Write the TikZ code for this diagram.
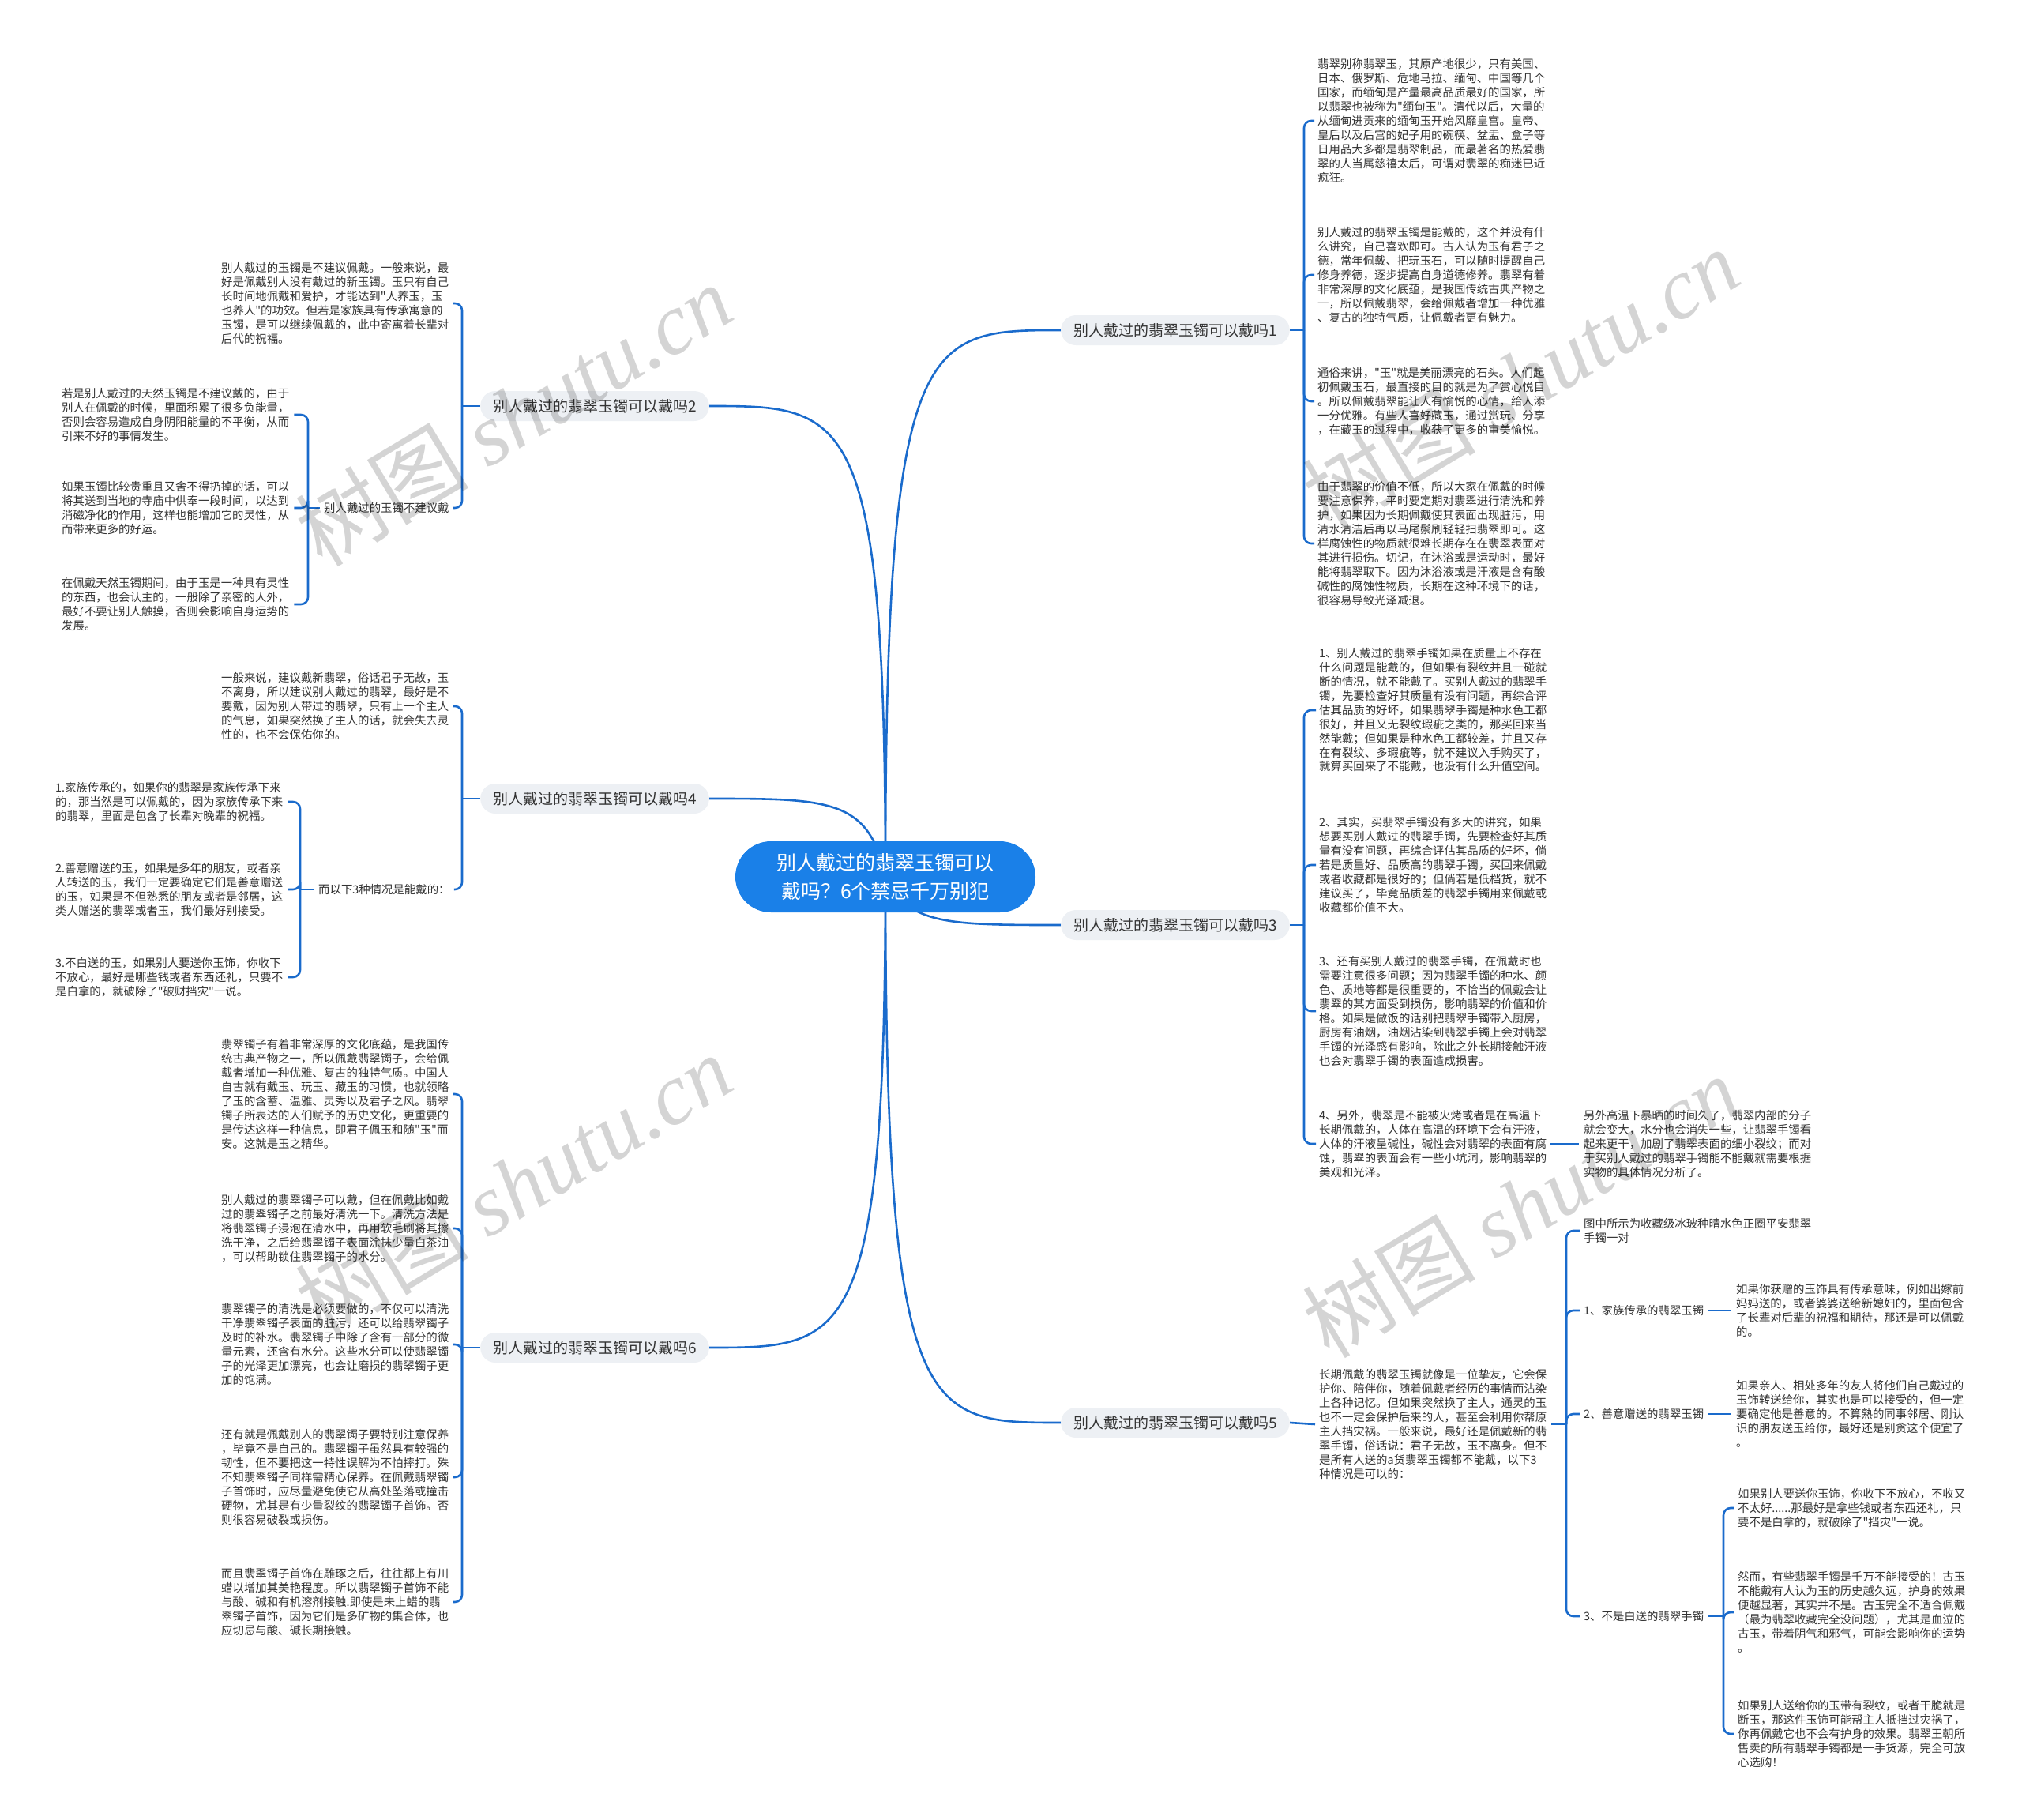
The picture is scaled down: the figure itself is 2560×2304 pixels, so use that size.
\documentclass[tikz,border=0pt]{standalone}
\usepackage{fontspec}
\setmainfont{Noto Sans CJK SC}
\newfontfamily\cjk{Noto Sans CJK SC}
\newfontfamily\wmlatin{Liberation Serif}
\usetikzlibrary{backgrounds}
\definecolor{lineblue}{HTML}{1A6BCC}
\definecolor{rootblue}{HTML}{1A80E8}
\definecolor{branchgray}{HTML}{EDF0F4}
\definecolor{txtgray}{HTML}{333333}
\tikzset{
  txt/.style={align=left, inner sep=0pt, anchor=west, text=txtgray, font=\cjk\fontsize{14.4}{17.9}\selectfont},
  mmbranch/.style={fill=branchgray, rounded corners=19pt, inner xsep=16pt, inner ysep=0pt, minimum height=38pt, text=txtgray, font=\cjk\fontsize{19}{22}\selectfont},
  mmroot/.style={fill=rootblue, text=white, rounded corners=45pt, minimum width=380pt, minimum height=90pt, align=center, font=\cjk\fontsize{25}{36}\selectfont},
  conn/.style={draw=lineblue, line width=2.6pt},
  brk/.style={conn, rounded corners=9pt},
  wmark/.style={rotate=31, text=black, opacity=0.17, font=\cjk\fontsize{110}{110}\selectfont},
}
\begin{document}
\begin{tikzpicture}[x=1pt,y=-1pt]
\useasboundingbox (0,0) rectangle (2560,2304);

% root and branches
\node[mmroot] (root) at (1121,1110) {别人戴过的翡翠玉镯可以\\戴吗？6个禁忌千万别犯};
\node[mmbranch] (b1) at (1488,418) {别人戴过的翡翠玉镯可以戴吗1};
\node[mmbranch] (b3) at (1488,1171) {别人戴过的翡翠玉镯可以戴吗3};
\node[mmbranch] (b5) at (1488,1801) {别人戴过的翡翠玉镯可以戴吗5};
\node[mmbranch] (b2) at (753,514) {别人戴过的翡翠玉镯可以戴吗2};
\node[mmbranch] (b4) at (753,1011) {别人戴过的翡翠玉镯可以戴吗4};
\node[mmbranch] (b6) at (753,1706) {别人戴过的翡翠玉镯可以戴吗6};

% branch 1 children
\node[txt] (r1a) at (1668,153) {翡翠别称翡翠玉，其原产地很少，只有美国、\\日本、俄罗斯、危地马拉、缅甸、中国等几个\\国家，而缅甸是产量最高品质最好的国家，所\\以翡翠也被称为"缅甸玉"。清代以后，大量的\\从缅甸进贡来的缅甸玉开始风靡皇宫。皇帝、\\皇后以及后宫的妃子用的碗筷、盆盂、盒子等\\日用品大多都是翡翠制品，而最著名的热爱翡\\翠的人当属慈禧太后，可谓对翡翠的痴迷已近\\疯狂。};
\node[txt] (r1b) at (1668,348) {别人戴过的翡翠玉镯是能戴的，这个并没有什\\么讲究，自己喜欢即可。古人认为玉有君子之\\德，常年佩戴、把玩玉石，可以随时提醒自己\\修身养德，逐步提高自身道德修养。翡翠有着\\非常深厚的文化底蕴，是我国传统古典产物之\\一，所以佩戴翡翠，会给佩戴者增加一种优雅\\、复古的独特气质，让佩戴者更有魅力。};
\node[txt] (r1c) at (1668,508) {通俗来讲，"玉"就是美丽漂亮的石头。人们起\\初佩戴玉石，最直接的目的就是为了赏心悦目\\。所以佩戴翡翠能让人有愉悦的心情，给人添\\一分优雅。有些人喜好藏玉，通过赏玩、分享\\，在藏玉的过程中，收获了更多的审美愉悦。};
\node[txt] (r1d) at (1668,688) {由于翡翠的价值不低，所以大家在佩戴的时候\\要注意保养，平时要定期对翡翠进行清洗和养\\护，如果因为长期佩戴使其表面出现脏污，用\\清水清洁后再以马尾鬃刷轻轻扫翡翠即可。这\\样腐蚀性的物质就很难长期存在在翡翠表面对\\其进行损伤。切记，在沐浴或是运动时，最好\\能将翡翠取下。因为沐浴液或是汗液是含有酸\\碱性的腐蚀性物质，长期在这种环境下的话，\\很容易导致光泽减退。};

% branch 3 children
\node[txt] (r3a) at (1670,899) {1、别人戴过的翡翠手镯如果在质量上不存在\\什么问题是能戴的，但如果有裂纹并且一碰就\\断的情况，就不能戴了。买别人戴过的翡翠手\\镯，先要检查好其质量有没有问题，再综合评\\估其品质的好坏，如果翡翠手镯是种水色工都\\很好，并且又无裂纹瑕疵之类的，那买回来当\\然能戴；但如果是种水色工都较差，并且又存\\在有裂纹、多瑕疵等，就不建议入手购买了，\\就算买回来了不能戴，也没有什么升值空间。};
\node[txt] (r3b) at (1670,1095) {2、其实，买翡翠手镯没有多大的讲究，如果\\想要买别人戴过的翡翠手镯，先要检查好其质\\量有没有问题，再综合评估其品质的好坏，倘\\若是质量好、品质高的翡翠手镯，买回来佩戴\\或者收藏都是很好的；但倘若是低档货，就不\\建议买了，毕竟品质差的翡翠手镯用来佩戴或\\收藏都价值不大。};
\node[txt] (r3c) at (1670,1280) {3、还有买别人戴过的翡翠手镯，在佩戴时也\\需要注意很多问题；因为翡翠手镯的种水、颜\\色、质地等都是很重要的，不恰当的佩戴会让\\翡翠的某方面受到损伤，影响翡翠的价值和价\\格。如果是做饭的话别把翡翠手镯带入厨房，\\厨房有油烟，油烟沾染到翡翠手镯上会对翡翠\\手镯的光泽感有影响，除此之外长期接触汗液\\也会对翡翠手镯的表面造成损害。};
\node[txt] (r3d) at (1670,1448) {4、另外，翡翠是不能被火烤或者是在高温下\\长期佩戴的，人体在高温的环境下会有汗液，\\人体的汗液呈碱性，碱性会对翡翠的表面有腐\\蚀，翡翠的表面会有一些小坑洞，影响翡翠的\\美观和光泽。};
\node[txt] (r3e) at (2005,1448) {另外高温下暴晒的时间久了，翡翠内部的分子\\就会变大，水分也会消失一些，让翡翠手镯看\\起来更干，加剧了翡翠表面的细小裂纹；而对\\于买别人戴过的翡翠手镯能不能戴就需要根据\\实物的具体情况分析了。};

% branch 5 children
\node[txt] (r5) at (1670,1803) {长期佩戴的翡翠玉镯就像是一位挚友，它会保\\护你、陪伴你，随着佩戴者经历的事情而沾染\\上各种记忆。但如果突然换了主人，通灵的玉\\也不一定会保护后来的人，甚至会利用你帮原\\主人挡灾祸。一般来说，最好还是佩戴新的翡\\翠手镯，俗话说：君子无故，玉不离身。但不\\是所有人送的a货翡翠玉镯都不能戴，以下3\\种情况是可以的：};
\node[txt] (c1) at (2005,1558) {图中所示为收藏级冰玻种晴水色正圈平安翡翠\\手镯一对};
\node[txt] (c2) at (2005,1659) {1、家族传承的翡翠玉镯};
\node[txt] (c3) at (2005,1790) {2、善意赠送的翡翠玉镯};
\node[txt] (c4) at (2005,2046) {3、不是白送的翡翠手镯};
\node[txt] (c2x) at (2198,1659) {如果你获赠的玉饰具有传承意味，例如出嫁前\\妈妈送的，或者婆婆送给新媳妇的，里面包含\\了长辈对后辈的祝福和期待，那还是可以佩戴\\的。};
\node[txt] (c3x) at (2198,1790) {如果亲人、相处多年的友人将他们自己戴过的\\玉饰转送给你，其实也是可以接受的，但一定\\要确定他是善意的。不算熟的同事邻居、刚认\\识的朋友送玉给你，最好还是别贪这个便宜了\\。};
\node[txt] (d1) at (2200,1909) {如果别人要送你玉饰，你收下不放心，不收又\\不太好......那最好是拿些钱或者东西还礼，只\\要不是白拿的，就破除了"挡灾"一说。};
\node[txt] (d2) at (2200,2041) {然而，有些翡翠手镯是千万不能接受的！古玉\\不能戴有人认为玉的历史越久远，护身的效果\\便越显著，其实并不是。古玉完全不适合佩戴\\（最为翡翠收藏完全没问题），尤其是血泣的\\古玉，带着阴气和邪气，可能会影响你的运势\\。};
\node[txt] (d3) at (2200,2195) {如果别人送给你的玉带有裂纹，或者干脆就是\\断玉，那这件玉饰可能帮主人抵挡过灾祸了，\\你再佩戴它也不会有护身的效果。翡翠王朝所\\售卖的所有翡翠手镯都是一手货源，完全可放\\心选购！};

% branch 2 children
\node[txt] (l2a) at (280,384) {别人戴过的玉镯是不建议佩戴。一般来说，最\\好是佩戴别人没有戴过的新玉镯。玉只有自己\\长时间地佩戴和爱护，才能达到"人养玉，玉\\也养人"的功效。但若是家族具有传承寓意的\\玉镯，是可以继续佩戴的，此中寄寓着长辈对\\后代的祝福。};
\node[txt] (l2b) at (410,643) {别人戴过的玉镯不建议戴};
\node[txt] (l2b1) at (78,525) {若是别人戴过的天然玉镯是不建议戴的，由于\\别人在佩戴的时候，里面积累了很多负能量，\\否则会容易造成自身阴阳能量的不平衡，从而\\引来不好的事情发生。};
\node[txt] (l2b2) at (78,643) {如果玉镯比较贵重且又舍不得扔掉的话，可以\\将其送到当地的寺庙中供奉一段时间，以达到\\消磁净化的作用，这样也能增加它的灵性，从\\而带来更多的好运。};
\node[txt] (l2b3) at (78,765) {在佩戴天然玉镯期间，由于玉是一种具有灵性\\的东西，也会认主的，一般除了亲密的人外，\\最好不要让别人触摸，否则会影响自身运势的\\发展。};

% branch 4 children
\node[txt] (l4a) at (280,894) {一般来说，建议戴新翡翠，俗话君子无故，玉\\不离身，所以建议别人戴过的翡翠，最好是不\\要戴，因为别人带过的翡翠，只有上一个主人\\的气息，如果突然换了主人的话，就会失去灵\\性的，也不会保佑你的。};
\node[txt] (l4b) at (403,1126) {而以下3种情况是能戴的：};
\node[txt] (l4b1) at (70,1015) {1.家族传承的，如果你的翡翠是家族传承下来\\的，那当然是可以佩戴的，因为家族传承下来\\的翡翠，里面是包含了长辈对晚辈的祝福。};
\node[txt] (l4b2) at (70,1126) {2.善意赠送的玉，如果是多年的朋友，或者亲\\人转送的玉，我们一定要确定它们是善意赠送\\的玉，如果是不但熟悉的朋友或者是邻居，这\\类人赠送的翡翠或者玉，我们最好别接受。};
\node[txt] (l4b3) at (70,1237) {3.不白送的玉，如果别人要送你玉饰，你收下\\不放心，最好是哪些钱或者东西还礼，只要不\\是白拿的，就破除了"破财挡灾"一说。};

% branch 6 children
\node[txt] (l6a) at (280,1385) {翡翠镯子有着非常深厚的文化底蕴，是我国传\\统古典产物之一，所以佩戴翡翠镯子，会给佩\\戴者增加一种优雅、复古的独特气质。中国人\\自古就有戴玉、玩玉、藏玉的习惯，也就领略\\了玉的含蓄、温雅、灵秀以及君子之风。翡翠\\镯子所表达的人们赋予的历史文化，更重要的\\是传达这样一种信息，即君子佩玉和随"玉"而\\安。这就是玉之精华。};
\node[txt] (l6b) at (280,1555) {别人戴过的翡翠镯子可以戴，但在佩戴比如戴\\过的翡翠镯子之前最好清洗一下。清洗方法是\\将翡翠镯子浸泡在清水中，再用软毛刷将其擦\\洗干净，之后给翡翠镯子表面涂抹少量白茶油\\，可以帮助锁住翡翠镯子的水分。};
\node[txt] (l6c) at (280,1702) {翡翠镯子的清洗是必须要做的，不仅可以清洗\\干净翡翠镯子表面的脏污，还可以给翡翠镯子\\及时的补水。翡翠镯子中除了含有一部分的微\\量元素，还含有水分。这些水分可以使翡翠镯\\子的光泽更加漂亮，也会让磨损的翡翠镯子更\\加的饱满。};
\node[txt] (l6d) at (280,1870) {还有就是佩戴别人的翡翠镯子要特别注意保养\\，毕竟不是自己的。翡翠镯子虽然具有较强的\\韧性，但不要把这一特性误解为不怕摔打。殊\\不知翡翠镯子同样需精心保养。在佩戴翡翠镯\\子首饰时，应尽量避免使它从高处坠落或撞击\\硬物，尤其是有少量裂纹的翡翠镯子首饰。否\\则很容易破裂或损伤。};
\node[txt] (l6e) at (280,2028) {而且翡翠镯子首饰在雕琢之后，往往都上有川\\蜡以增加其美艳程度。所以翡翠镯子首饰不能\\与酸、碱和有机溶剂接触.即使是未上蜡的翡\\翠镯子首饰，因为它们是多矿物的集合体，也\\应切忌与酸、碱长期接触。};

% bracket points
\coordinate (k1) at (1651,418);
\coordinate (k3) at (1651,1171);
\coordinate (k5) at (1983,1803);
\coordinate (k54) at (2182,2046);
\coordinate (k2) at (585,514);
\coordinate (k2b) at (390,643);
\coordinate (k4) at (585,1011);
\coordinate (k4b) at (380,1126);
\coordinate (k6) at (585,1706);

\begin{scope}[on background layer]
\fill[white] (0,0) rectangle (2560,2304);
% root connectors
\draw[conn] (root.center) .. controls (1121,418) and (1170,418) .. (b1.west);
\draw[conn] (root.center) .. controls (1150,1171) and (1200,1171) .. (b3.west);
\draw[conn] (root.center) .. controls (1121,1801) and (1170,1801) .. (b5.west);
\draw[conn] (root.center) .. controls (1121,514) and (1072,514) .. (b2.east);
\draw[conn] (root.center) .. controls (1100,1011) and (1050,1011) .. (b4.east);
\draw[conn] (root.center) .. controls (1121,1706) and (1072,1706) .. (b6.east);
% branch 1
\draw[conn] (b1.east) -- (k1);
\foreach \n in {r1a,r1b,r1c,r1d} \draw[brk] (k1) |- ([xshift=-4pt]\n.west);
% branch 3
\draw[conn] (b3.east) -- (k3);
\foreach \n in {r3a,r3b,r3c,r3d} \draw[brk] (k3) |- ([xshift=-4pt]\n.west);
\draw[conn] ([xshift=5pt]r3d.east) -- ([xshift=-6pt]r3e.west);
% branch 5
\draw[conn] (b5.east) -- ([xshift=-5pt]r5.west);
\draw[conn] ([xshift=6pt]r5.east) -- (k5);
\foreach \n in {c1,c2,c3,c4} \draw[brk] (k5) |- ([xshift=-5pt]\n.west);
\draw[conn] ([xshift=6pt]c2.east) -- ([xshift=-6pt]c2x.west);
\draw[conn] ([xshift=6pt]c3.east) -- ([xshift=-6pt]c3x.west);
\draw[conn] ([xshift=6pt]c4.east) -- (k54);
\foreach \n in {d1,d2,d3} \draw[brk] (k54) |- ([xshift=-5pt]\n.west);
% branch 2
\draw[conn] (b2.west) -- (k2);
\foreach \n in {l2a,l2b} \draw[brk] (k2) |- ([xshift=5pt]\n.east);
\draw[conn] ([xshift=-5pt]l2b.west) -- (k2b);
\foreach \n in {l2b1,l2b2,l2b3} \draw[brk] (k2b) |- ([xshift=6pt]\n.east);
% branch 4
\draw[conn] (b4.west) -- (k4);
\foreach \n in {l4a,l4b} \draw[brk] (k4) |- ([xshift=5pt]\n.east);
\draw[conn] ([xshift=-5pt]l4b.west) -- (k4b);
\foreach \n in {l4b1,l4b2,l4b3} \draw[brk] (k4b) |- ([xshift=6pt]\n.east);
% branch 6
\draw[conn] (b6.west) -- (k6);
\foreach \n in {l6a,l6b,l6c,l6d,l6e} \draw[brk] (k6) |- ([xshift=5pt]\n.east);
\end{scope}

% watermarks
\node[wmark] (wm1) at (650,525) {树图 {\wmlatin\itshape shutu.cn}};
\node[wmark] (wm2) at (1925,480) {树图 {\wmlatin\itshape shutu.cn}};
\node[wmark] (wm3) at (650,1500) {树图 {\wmlatin\itshape shutu.cn}};
\node[wmark] (wm4) at (1925,1527) {树图 {\wmlatin\itshape shutu.cn}};
\end{tikzpicture}
\end{document}
